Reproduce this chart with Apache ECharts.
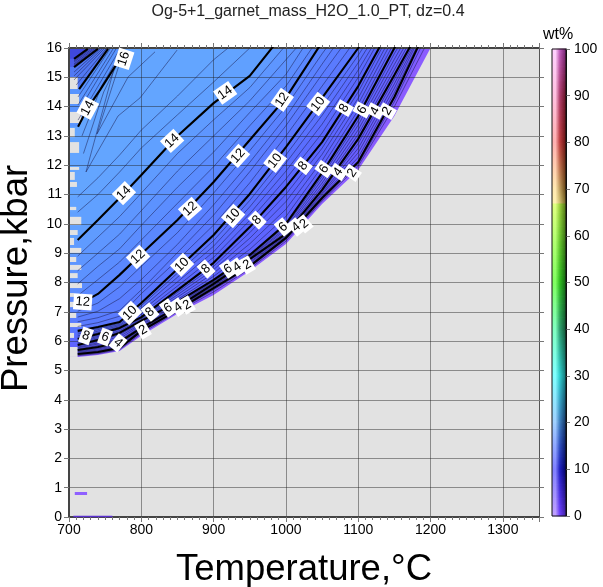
<!DOCTYPE html>
<html><head><meta charset="utf-8">
<style>html,body{margin:0;padding:0;background:#fff}#c{width:603px;height:587px}</style>
<script src="https://cdn.jsdelivr.net/npm/echarts@6/dist/echarts.min.js"></script>
</head><body><div id="c"></div>
<script>
const titleText = 'Og-5+1_garnet_mass_H2O_1.0_PT, dz=0.4';
const xName = 'Temperature,°C';
const yName = 'Pressure,kbar';
const tempColumns = [712,740,770,800,850,900,950,1000,1050,1100,1150,1200];
const edgeP = [5.46,5.53,5.66,6.18,6.93,7.57,8.39,9.31,10.68,11.84,13.68,16.0];
const majorLevels = [2,4,6,8,10,12,14];
const majorP = [
 [5.56,5.63,5.77,6.35,7.06,7.81,8.56,9.52,10.88,12.11,14.33,16.95],
 [5.70,5.80,5.97,6.45,7.16,7.95,8.80,9.66,11.16,12.90,15.08,17.3],
 [5.87,6.04,6.28,6.69,7.34,8.09,8.94,10.0,11.74,13.68,16.0,18],
 [6.07,6.24,6.45,6.82,7.74,8.67,9.89,11.26,12.79,14.70,16.95],
 [6.35,6.48,6.65,7.30,8.46,9.62,11.02,12.62,14.30,16.0,18],
 [7.23,7.61,8.26,8.97,10.13,11.43,12.86,14.30,16.2],
 [9.45,10.13,10.88,11.67,13.0,14.12,15.05,16.6]
];
const minorLevels = [0.8,1.4,2.4,2.8,3.2,3.6,4.4,4.8,5.2,5.6,6.4,6.8,7.2,7.6,8.4,8.8,9.2,9.6,10.4,10.8,11.2,11.6,12.4,12.8,13.2,13.6,14.4,14.8];
const minorP = [
 [5.50,5.57,5.71,6.26,7.0,7.68,8.47,9.41,10.78,11.97,14.0,16.4],
 [5.53,5.60,5.74,6.31,7.03,7.75,8.52,9.47,10.83,12.04,14.17,16.7],
 [5.59,5.66,5.81,6.37,7.08,7.84,8.61,9.55,10.94,12.27,14.48,17.0],
 [5.62,5.69,5.85,6.39,7.10,7.87,8.66,9.58,11.0,12.43,14.63,17.1],
 [5.64,5.73,5.89,6.41,7.12,7.89,8.70,9.60,11.05,12.58,14.78,17.15],
 [5.67,5.76,5.93,6.43,7.14,7.92,8.75,9.63,11.11,12.74,14.93,17.2],
 [5.73,5.85,6.03,6.50,7.20,7.98,8.83,9.73,11.28,13.06,15.26,17.5],
 [5.77,5.90,6.09,6.55,7.24,8.01,8.86,9.80,11.39,13.21,15.44,17.6],
 [5.80,5.94,6.16,6.59,7.27,8.03,8.88,9.86,11.51,13.37,15.62,17.8],
 [5.84,5.99,6.22,6.64,7.31,8.06,8.91,9.93,11.62,13.52,15.81,17.9],
 [5.91,6.08,6.32,6.72,7.42,8.21,9.13,10.25,11.95,13.88,16.2],
 [5.95,6.12,6.36,6.74,7.50,8.32,9.32,10.50,12.16,14.09,16.4],
 [5.99,6.16,6.41,6.77,7.58,8.44,9.51,10.76,12.37,14.29,16.6],
 [6.03,6.20,6.43,6.79,7.66,8.55,9.70,11.01,12.58,14.50,16.8],
 [6.13,6.29,6.49,6.92,7.88,8.86,10.12,11.53,13.10,15.0,17.2],
 [6.18,6.34,6.53,7.02,8.02,9.05,10.35,11.80,13.40,15.25,17.3],
 [6.24,6.39,6.57,7.12,8.18,9.24,10.58,12.08,13.70,15.5,17.5],
 [6.30,6.43,6.61,7.21,8.32,9.43,10.80,12.35,14.0,15.75,17.7],
 [6.50,6.63,6.85,7.62,8.76,9.96,11.40,13.0,14.70,16.4],
 [6.66,6.80,7.05,7.75,9.02,10.30,11.78,13.35,15.1,16.8],
 [6.82,7.02,7.45,8.10,9.30,10.65,12.1,13.65,15.45,17.2],
 [7.02,7.3,7.85,8.55,9.7,11.05,12.5,14.0,15.8,17.5],
 [7.55,8.1,8.7,9.45,10.7,11.95,13.35,14.7,16.5],
 [7.95,8.55,9.15,9.95,11.25,12.45,13.8,15.1,17],
 [8.4,9.0,9.65,10.45,11.8,13.0,14.2,15.6,17],
 [8.9,9.55,10.25,11.05,12.4,13.55,14.65,16.1],
 [10.4,11.0,11.77,12.59,13.72,14.84,16.0],
 [10.92,11.57,12.35,13.2,14.36,15.6,16.6]
];
const fillStopLevels = [0,2,8,12,14,15.5];
const fillStopColors = ['#8a5cff','#6a5cff','#5a68ff','#5a88ff','#60a0ff','#66aaff'];
// upper-left corner contours, heavy
const cornerHeavy = [
 [[707,15.63],[726,15.97]],
 [[707,15.35],[740,15.97]],
 [[714,14.60],[754,15.97]],
 [[712.5,13.31],[726,13.95],[743,14.57],[765,15.42],[776,15.93]]
];
const cornerWedgeColors = ['#3f48dc','#4a5cea','#5078f4','#5894ff'];
// upper-left corner contours, thin
const cornerThin = [
 [[707,15.56],[729,15.97]],[[707,15.52],[732,15.97]],[[707,15.46],[734.6,15.97]],[[707,15.42],[737.4,15.97]],
 [[707,15.18],[743,15.97]],[[707,15.05],[745.7,15.97]],[[707,14.91],[748.4,15.97]],[[710,14.74],[751.2,15.97]],
 [[712.5,14.33],[756.7,15.97]],[[712.5,14.06],[760.9,15.97]],[[712.5,13.82],[765,15.97]],[[712.5,13.54],[770.6,15.97]],
 [[718,13.0],[745,14.7],[770,15.75]],[[720,12.4],[748,14.5],[772,15.72]],
 [[763.7,15.42],[723.5,11.77],[767.8,13.68],[798.3,14.30],[849.5,15.93]],
 [[770.6,15.52],[738.8,13.07],[781.7,15.01],[819,15.87]]
];
// rows of the grid at the left side that hold no value: [P top, P bottom, T right]
const gapRows = [
 [15.01,14.60,712],[14.43,14.09,714],[13.82,13.44,717],[13.27,12.96,708],[12.79,12.42,714],[11.94,11.84,714],
 [11.77,11.50,708],[11.43,11.26,711],[10.58,10.47,710],[10.24,9.96,717],[9.79,9.62,712],[9.52,9.28,707],
 [9.18,9.01,717],[8.87,8.70,710],[8.60,8.43,717],[8.32,8.15,712],[7.98,7.81,718],[7.64,7.51,707],
 [7.34,7.16,717],[6.96,6.79,710],[6.62,6.48,717],[6.28,6.11,707],[5.80,5.46,712]
];
const isolatedBar = [[708,0.8],[725,0.8]];
const bottomBar = [[706,0.02],[760,0.02]];
const labelTexts = ['16','14','14','14','14','12','12','12','12','12','10','10','10','10','10',
 '8','8','8','8','8','8','6','6','6','6','6','6','4','4','4','4','4','4','2','2','2','2','2','2'];
const labelT = [776,726,776,842.6,916,719,795.5,867.5,933.9,994.8,784.4,856.4,927,985.1,1044.6,
 723.5,812.1,889.6,960.2,1023.9,1080.6,749.8,837,920,996.2,1052.9,1105.5,767.8,850.9,932.5,1014.2,1072.3,1123.5,802.4,863.3,946.4,1025.3,1091.7,1140.1];
const labelP = [15.63,13.95,11.05,12.83,14.47,7.34,8.87,10.51,12.32,14.23,6.96,8.60,10.27,12.15,14.09,
 6.18,6.99,8.46,10.13,11.98,13.95,6.14,7.13,8.46,9.89,11.87,13.89,5.94,7.16,8.53,9.89,11.77,13.85,6.38,7.23,8.60,10.0,11.74,13.85];
const labelAngle = [72,62,45,43,35,-4,43,42,48,55,45,45,48,52,52,
 -20,40,42,45,52,60,-20,35,35,40,55,62,-40,35,35,40,55,62,30,30,30,40,55,60];
// colour bar stops
const cbValues = [0,10,20,30,40,50,66.99,67.01,70,80,90,100];
const cbLight = ['#c0a0ff','#8080ff','#a0d0ff','#80ffff','#80ffc0','#80ff60','#e0ff80','#fff0b0','#ffe8b0','#ffb0b0','#ffc0e0','#ffd0ff'];
const cbMid   = ['#7040ff','#2020c0','#4080c0','#30d0d0','#30a070','#30c020','#a0d040','#d0c070','#c0a060','#c04040','#b04070','#c060c0'];
const cbDark  = ['#4020a0','#000060','#103060','#107070','#105030','#106010','#507010','#706020','#604010','#601010','#601020','#702070'];

const FONT = '"Liberation Sans", Arial, sans-serif';
const lerp = echarts.color.lerp;
function fillColor(v){
  for(let i=0;i<fillStopLevels.length-1;i++){
    if(v<=fillStopLevels[i+1]) return lerp((v-fillStopLevels[i])/(fillStopLevels[i+1]-fillStopLevels[i]),[fillStopColors[i],fillStopColors[i+1]]);
  }
  return fillStopColors[fillStopColors.length-1];
}
const rowPts = r => r.map((p,i)=>[tempColumns[i],p]);
const allRows = [{v:0,r:edgeP}];
majorLevels.forEach((v,i)=>allRows.push({v,r:majorP[i]}));
minorLevels.forEach((v,i)=>allRows.push({v,r:minorP[i]}));
allRows.sort((a,b)=>a.v-b.v);

const polys = allRows.map(o=>{
  const pts = rowPts(o.r), last = pts[pts.length-1];
  return {pts:[[695,o.r[0]],...pts,[last[0],20],[695,20]], color:fillColor(o.v)};
});
for(let i=cornerHeavy.length-1;i>=0;i--){
  const l=cornerHeavy[i], e=l[l.length-1];
  polys.push({pts:[[695,l[0][1]],...l,[e[0],20],[695,20]], color:cornerWedgeColors[i]});
}
gapRows.forEach(g=>polys.push({pts:[[695,g[0]],[g[2],g[0]],[g[2],g[1]],[695,g[1]]], color:'#e2e2e2'}));

const series = [];
series.push({type:'custom',coordinateSystem:'cartesian2d',xAxisIndex:0,yAxisIndex:0,clip:true,silent:true,z:1,
  data:polys.map((p,i)=>[i]),encode:{x:-1,y:-1},
  renderItem:(params,api)=>{
    const p=polys[params.dataIndex];
    return {type:'polygon',shape:{points:p.pts.map(q=>api.coord(q))},style:{fill:p.color,stroke:null}};
  }});
const lineS=(data,w,color)=>({type:'line',data,xAxisIndex:0,yAxisIndex:0,showSymbol:false,symbol:'none',silent:true,z:3,animation:false,
  lineStyle:{width:w,color,join:'bevel'}});
minorP.forEach(r=>series.push(lineS(rowPts(r),0.5,'#1a1a4a')));
cornerThin.forEach(l=>series.push(lineS(l,0.5,'#1a1a4a')));
majorP.forEach(r=>series.push(lineS(rowPts(r),2.1,'#000')));
cornerHeavy.forEach(l=>series.push(lineS(l,2.1,'#000')));
series.push(lineS(isolatedBar,3,'#8f60ff'));
series.push(lineS(bottomBar,1.5,'#5a2fd0'));
series.push({type:'custom',coordinateSystem:'cartesian2d',xAxisIndex:0,yAxisIndex:0,silent:true,z:5,
  data:labelTexts.map((t,i)=>[labelT[i],labelP[i]]),
  renderItem:(params,api)=>{
    const i=params.dataIndex,c=api.coord([labelT[i],labelP[i]]);
    return {type:'text',x:c[0],y:c[1],rotation:labelAngle[i]*Math.PI/180,
      style:{text:labelTexts[i],fill:'#000',font:'13px '+FONT,align:'center',verticalAlign:'middle',backgroundColor:'#fff',padding:[2,2,1,2]}};
  }});
// colour bar
const cbSlices=[];
for(let i=0;i<cbValues.length-1;i++){
  const a=cbValues[i],b=cbValues[i+1],n=Math.max(1,Math.round((b-a)*4));
  for(let k=0;k<n;k++){
    const t=k/n;
    cbSlices.push({a:a+(b-a)*t,b:a+(b-a)*(k+1)/n,l:lerp(t,[cbLight[i],cbLight[i+1]]),m:lerp(t,[cbMid[i],cbMid[i+1]]),d:lerp(t,[cbDark[i],cbDark[i+1]])});
  }
}
series.push({type:'custom',coordinateSystem:'cartesian2d',xAxisIndex:2,yAxisIndex:2,silent:true,z:1,
  data:cbSlices.map((s,i)=>[0,s.a]),
  renderItem:(params,api)=>{
    const s=cbSlices[params.dataIndex],p0=api.coord([0,s.b]),p1=api.coord([1,s.a]);
    return {type:'rect',shape:{x:p0[0],y:p0[1]-0.4,width:p1[0]-p0[0],height:p1[1]-p0[1]+0.8},
      style:{fill:new echarts.graphic.LinearGradient(0,0,1,0,[{offset:0,color:s.l},{offset:.25,color:s.l},{offset:.55,color:s.m},{offset:1,color:s.d}]),stroke:null}};
  }});

const tickStyle={lineStyle:{color:'#777',width:1}};
const base={z:2,silent:true};
const plain=v=>String(v);
const chart=echarts.init(document.getElementById('c'),null,{renderer:'canvas'});
chart.setOption({
  animation:false,
  textStyle:{fontFamily:FONT,color:'#000'},
  title:{text:titleText,left:303,top:-1,textAlign:'center',textStyle:{fontFamily:FONT,fontWeight:'normal',fontSize:16,color:'#222'}},
  grid:[
    {left:69,top:48,width:470,height:469,show:true,backgroundColor:'#e2e2e2',borderWidth:0,outerBoundsMode:'none',containLabel:false},
    {left:552,top:49,width:14,height:467,show:true,backgroundColor:'transparent',borderColor:'#111',borderWidth:1,z:4,outerBoundsMode:'none',containLabel:false}
  ],
  xAxis:[
    {...base,type:'value',gridIndex:0,min:700,max:1350,interval:100,position:'bottom',name:xName,nameLocation:'middle',nameGap:34,
     nameTextStyle:{fontFamily:FONT,fontSize:36.5,color:'#000'},
     axisLine:{onZero:false,lineStyle:{color:'#444',width:2}},axisTick:{length:5,...tickStyle},
     minorTick:{show:true,splitNumber:10,length:3,lineStyle:{color:'#777',width:1}},
     axisLabel:{fontFamily:FONT,fontSize:14,color:'#000',margin:6,showMaxLabel:false,formatter:plain},
     splitLine:{show:true,lineStyle:{color:'rgba(30,30,30,0.45)',width:1}}},
    {...base,type:'value',gridIndex:0,min:700,max:1350,interval:100,position:'top',
     axisLine:{onZero:false,lineStyle:{color:'#444',width:2}},axisTick:{length:5,...tickStyle},
     minorTick:{show:true,splitNumber:10,length:3,lineStyle:{color:'#777',width:1}},
     axisLabel:{show:false},splitLine:{show:false}},
    {type:'value',gridIndex:1,min:0,max:1,show:false}
  ],
  yAxis:[
    {...base,type:'value',gridIndex:0,min:0,max:16,interval:1,position:'left',name:yName,nameLocation:'middle',nameGap:34,
     nameTextStyle:{fontFamily:FONT,fontSize:36.5,color:'#000',padding:[0,0,0,8]},
     axisLine:{onZero:false,lineStyle:{color:'#444',width:2}},axisTick:{length:5,...tickStyle},
     axisLabel:{fontFamily:FONT,fontSize:14,color:'#000',margin:7,formatter:plain},
     splitLine:{show:true,lineStyle:{color:'rgba(30,30,30,0.45)',width:1}}},
    {...base,type:'value',gridIndex:0,min:0,max:16,interval:1,position:'right',
     axisLine:{onZero:false,lineStyle:{color:'#555',width:1}},axisTick:{length:5,...tickStyle},
     axisLabel:{show:false},splitLine:{show:false}},
    {...base,type:'value',gridIndex:1,min:0,max:100,interval:10,position:'right',name:'wt%',nameLocation:'end',nameGap:3,
     nameTextStyle:{fontFamily:FONT,fontSize:16,color:'#000',align:'center',padding:[0,16,0,0]},
     axisLine:{onZero:false,lineStyle:{color:'#111',width:1}},axisTick:{length:4,...tickStyle},
     axisLabel:{fontFamily:FONT,fontSize:14,color:'#000',margin:8,formatter:plain},splitLine:{show:false}}
  ],
  series
});
</script></body></html>
